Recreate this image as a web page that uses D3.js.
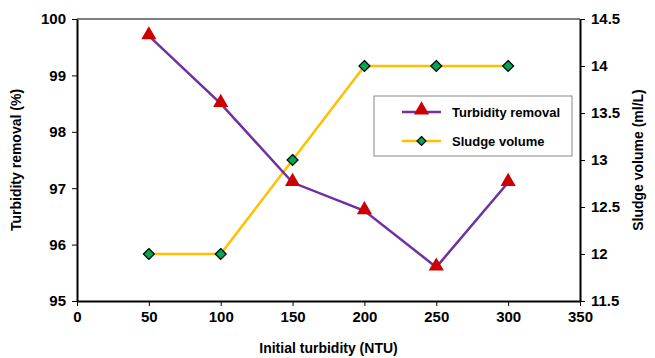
<!DOCTYPE html>
<html><head><meta charset="utf-8">
<script src="https://cdn.jsdelivr.net/npm/d3@7"></script>
<style>body{margin:0;background:#fff}svg{display:block}text{font-family:Arial,"Liberation Sans",sans-serif;font-weight:bold}</style>
</head><body><svg id="c" width="655" height="358"></svg>
<script>
const turbidity = [50, 100, 150, 200, 250, 300];
const removal = [99.7, 98.5, 97.1, 96.6, 95.6, 97.1];
const sludge = [12, 12, 13, 14, 14, 14];
const xTicks = [0, 50, 100, 150, 200, 250, 300, 350];
const yLeftTicks = [95, 96, 97, 98, 99, 100];
const yRightTicks = [11.5, 12, 12.5, 13, 13.5, 14, 14.5];
const seriesNames = ["Turbidity removal", "Sludge volume"];

const svg = d3.select("#c");
const L = 77, R = 580, T = 19, B = 301;
const x = d3.scaleLinear().domain([0, 350]).range([L, R]);
const yL = d3.scaleLinear().domain([95, 100]).range([B, T]);
const yR = d3.scaleLinear().domain([11.5, 14.5]).range([B, T]);

svg.append("line").attr("x1", L).attr("x2", R).attr("y1", T).attr("y2", T).attr("stroke", "#555").attr("stroke-width", 1.5);

const ax = (g) => { g.selectAll("path").attr("stroke", "#000").attr("stroke-width", 2);
  g.selectAll("line").attr("stroke", "#000").attr("stroke-width", 1);
  g.selectAll("text").attr("font-size", 15).attr("font-weight", "bold").attr("fill", "#000").attr("font-family", "Arial,'Liberation Sans',sans-serif"); };

svg.append("g").attr("transform", `translate(0,${B})`)
  .call(d3.axisBottom(x).tickValues(xTicks).tickFormat(d3.format("d")).tickSize(5).tickSizeOuter(0).tickPadding(5)).call(ax);
svg.append("g").attr("transform", `translate(${L},0)`)
  .call(d3.axisLeft(yL).tickValues(yLeftTicks).tickFormat(d3.format("d")).tickSize(5).tickSizeOuter(0).tickPadding(6)).call(ax);
svg.append("g").attr("transform", `translate(${R},0)`)
  .call(d3.axisRight(yR).tickValues(yRightTicks).tickFormat(d3.format("")).tickSize(5).tickSizeOuter(0).tickPadding(6)).call(ax);

svg.append("text").attr("x", (L + R) / 2).attr("y", 353).attr("text-anchor", "middle").attr("font-size", 14).text("Initial turbidity (NTU)");
svg.append("text").attr("transform", `translate(21,${(T + B) / 2}) rotate(-90)`).attr("text-anchor", "middle").attr("font-size", 14).text("Turbidity removal (%)");
svg.append("text").attr("transform", `translate(643,${(T + B) / 2}) rotate(-90)`).attr("text-anchor", "middle").attr("font-size", 14).text("Sludge volume (ml/L)");

const purple = "#7030a0", yellow = "#ffc000", red = "#cc0000", green = "#00a651";
const tri = d3.symbol().type(d3.symbolTriangle).size(100);
const dia = (cx, cy, r) => `M${cx},${cy - r}L${cx + r},${cy}L${cx},${cy + r}L${cx - r},${cy}Z`;

svg.append("path").datum(turbidity.map((t, i) => [t, sludge[i]]))
  .attr("d", d3.line().x(d => x(d[0])).y(d => yR(d[1])))
  .attr("fill", "none").attr("stroke", yellow).attr("stroke-width", 2.5);
svg.append("path").datum(turbidity.map((t, i) => [t, removal[i]]))
  .attr("d", d3.line().x(d => x(d[0])).y(d => yL(d[1])))
  .attr("fill", "none").attr("stroke", purple).attr("stroke-width", 2.5);

turbidity.forEach((t, i) => {
  svg.append("path").attr("d", dia(x(t), yR(sludge[i]), 5.5)).attr("fill", green).attr("stroke", "#000").attr("stroke-width", 1.2);
});
turbidity.forEach((t, i) => {
  svg.append("path").attr("d", tri).attr("transform", `translate(${x(t)},${yL(removal[i]) - 1})`).attr("fill", red);
});

const lg = svg.append("g");
lg.append("rect").attr("x", 374).attr("y", 96).attr("width", 198).attr("height", 60).attr("fill", "#fff").attr("stroke", "#888").attr("stroke-width", 1);
lg.append("line").attr("x1", 402).attr("x2", 441).attr("y1", 112).attr("y2", 112).attr("stroke", purple).attr("stroke-width", 2.5);
lg.append("path").attr("d", tri).attr("transform", "translate(421.5,110)").attr("fill", red);
lg.append("line").attr("x1", 402).attr("x2", 441).attr("y1", 141).attr("y2", 141).attr("stroke", yellow).attr("stroke-width", 2.5);
lg.append("path").attr("d", dia(421.5, 141, 4.5)).attr("fill", green).attr("stroke", "#000").attr("stroke-width", 1.2);
lg.append("text").attr("x", 452).attr("y", 117).attr("font-size", 13).text(seriesNames[0]);
lg.append("text").attr("x", 452).attr("y", 146).attr("font-size", 13).text(seriesNames[1]);
</script></body></html>
